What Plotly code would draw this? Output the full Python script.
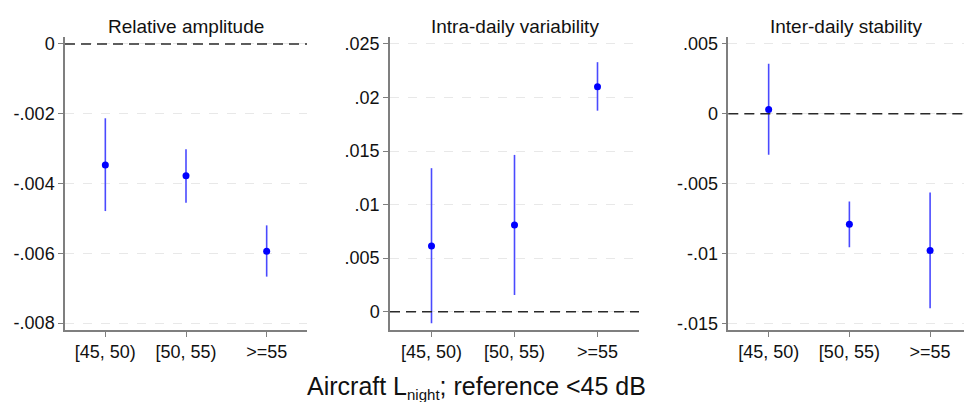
import plotly.graph_objects as go

categories = ["[45, 50)", "[50, 55)", ">=55"]

panel_titles = ["Relative amplitude", "Intra-daily variability", "Inter-daily stability"]

# estimates and 95% CI bounds
ra_est = [-0.00347, -0.00378, -0.00594]
ra_lo = [-0.00479, -0.00455, -0.00667]
ra_hi = [-0.00213, -0.00302, -0.00520]

iv_est = [0.00614, 0.00810, 0.02100]
iv_lo = [-0.00108, 0.00156, 0.01877]
iv_hi = [0.01340, 0.01464, 0.02330]

is_est = [0.00031, -0.00790, -0.00979]
is_lo = [-0.00294, -0.00955, -0.01392]
is_hi = [0.00358, -0.00628, -0.00563]

ra_ticks = [0, -0.002, -0.004, -0.006, -0.008]
ra_ticktext = ["0", "-.002", "-.004", "-.006", "-.008"]
iv_ticks = [0, 0.005, 0.01, 0.015, 0.02, 0.025]
iv_ticktext = ["0", ".005", ".01", ".015", ".02", ".025"]
is_ticks = [0.005, 0, -0.005, -0.01, -0.015]
is_ticktext = [".005", "0", "-.005", "-.01", "-.015"]

x_title = "Aircraft L<sub><span style='font-size:15px'>night</span></sub>; reference <45 dB"

W, H = 964, 402
FONT = "Liberation Sans, Arial, sans-serif"

panels = [
    (ra_est, ra_lo, ra_hi, ra_ticks, ra_ticktext, (65, 307), [-0.0082, 0.0002], [-0.5, 2.5]),
    (iv_est, iv_lo, iv_hi, iv_ticks, iv_ticktext, (390, 639), [-0.00171, 0.02565], [-0.5, 2.5]),
    (is_est, is_lo, is_hi, is_ticks, is_ticktext, (728.3, 964), [-0.01548, 0.0055], [-0.5, 2.42]),
]

fig = go.Figure()
y_dom = [1 - 330 / H, 1 - 37 / H]
layout = {}
shapes = []
annotations = []
for i, (est, lo, hi, tv, tt, (px0, px1), yr, xr) in enumerate(panels, start=1):
    xa = "x" if i == 1 else f"x{i}"
    ya = "y" if i == 1 else f"y{i}"
    plus = [h - e for h, e in zip(hi, est)]
    minus = [e - l for e, l in zip(est, lo)]
    fig.add_trace(go.Scatter(
        x=categories, y=est, mode="markers",
        marker=dict(color="#0000ff", size=7),
        error_y=dict(type="data", symmetric=False, array=plus, arrayminus=minus,
                     color="#4a4aff", thickness=1.6, width=0),
        xaxis=xa, yaxis=ya, showlegend=False, cliponaxis=False,
    ))
    xkey = "xaxis" if i == 1 else f"xaxis{i}"
    ykey = "yaxis" if i == 1 else f"yaxis{i}"
    layout[xkey] = dict(
        domain=[px0 / W, px1 / W], anchor=ya, type="category", range=xr,
        showline=True, linecolor="#7f7f7f", linewidth=1.5,
        ticks="outside", ticklen=5, tickcolor="#7f7f7f", tickwidth=1.2,
        showgrid=False, zeroline=False, automargin=False,
        tickfont=dict(family=FONT, size=18, color="#111"),
    )
    layout[ykey] = dict(
        domain=y_dom, anchor=xa, range=yr,
        tickvals=tv, ticktext=tt,
        showline=True, linecolor="#7f7f7f", linewidth=1.5,
        ticks="outside", ticklen=5, tickcolor="#7f7f7f", tickwidth=1.2,
        showgrid=True, gridcolor="#e8e8e8", griddash="dash", gridwidth=1,
        zeroline=False, automargin=False,
        tickfont=dict(family=FONT, size=18, color="#111"),
    )
    shapes.append(dict(type="line", xref=f"{xa} domain", yref=ya, x0=0, x1=1, y0=0, y1=0,
                       line=dict(color="#2a2a2a", width=1.5, dash="10px,6px"), layer="above"))
    annotations.append(dict(text=panel_titles[i - 1], x=(px0 + px1) / 2 / W, y=1 - 27 / H,
                            xref="paper", yref="paper", xanchor="center", yanchor="middle",
                            showarrow=False, font=dict(family=FONT, size=19, color="#111")))

annotations.append(dict(text=x_title, x=476 / W, y=1 - 387 / H, xref="paper", yref="paper",
                        xanchor="center", yanchor="middle", showarrow=False,
                        font=dict(family=FONT, size=25, color="#111")))

fig.update_layout(
    width=W, height=H, margin=dict(l=0, r=0, t=0, b=0),
    paper_bgcolor="white", plot_bgcolor="white",
    shapes=shapes, annotations=annotations, **layout,
)
fig.write_html(
    "out.html",
    config={"displayModeBar": False},
    post_script="document.body.style.margin='0';document.body.style.overflow='hidden';",
)
